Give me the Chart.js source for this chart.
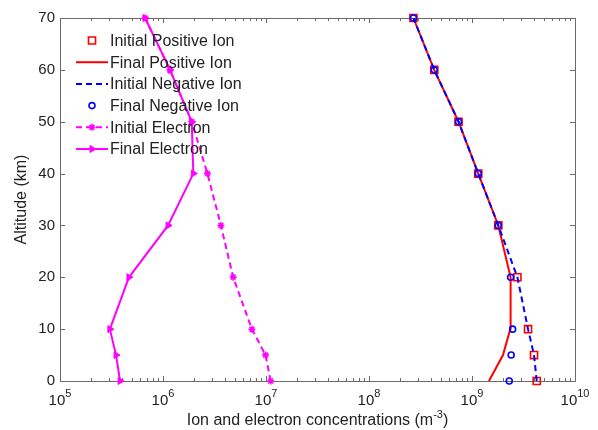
<!DOCTYPE html>
<html>
<head>
<meta charset="utf-8">
<script src="https://cdn.jsdelivr.net/npm/chart.js@4.4.1/dist/chart.umd.min.js"></script>
<style>
  html, body { margin: 0; padding: 0; background: #fff; }
  #wrap { width: 598px; height: 430px; }
</style>
</head>
<body>
<div id="wrap"><canvas id="chart" width="598" height="430"></canvas></div>
<script>
// altitudes (km) shared by every series
const altitude = [0, 5, 10, 20, 30, 40, 50, 60, 70];

// concentrations (m^-3)
const initialPositiveIon = [4.25e9, 4.0e9, 3.5e9, 2.76e9, 1.8e9, 1.15e9, 7.4e8, 4.3e8, 2.7e8];
const finalPositiveIon   = [1.46e9, 2.0e9, 2.35e9, 2.37e9, 1.8e9, 1.15e9, 7.4e8, 4.3e8, 2.7e8];
const initialNegativeIon = [4.25e9, 4.0e9, 3.5e9, 2.76e9, 1.8e9, 1.15e9, 7.4e8, 4.3e8, 2.7e8];
const finalNegativeIon   = [2.3e9, 2.4e9, 2.48e9, 2.37e9, 1.8e9, 1.15e9, 7.4e8, 4.3e8, 2.7e8];
const initialElectron    = [1.11e7, 9.9e6, 7.3e6, 4.8e6, 3.65e6, 2.7e6, 1.9e6, 1.17e6, 6.7e5];
const finalElectron      = [3.83e5, 3.5e5, 3.05e5, 4.67e5, 1.12e6, 1.97e6, 1.9e6, 1.17e6, 6.7e5];

// axis ticks
const xTickExponents = [5, 6, 7, 8, 9, 10];
const yTicks = [0, 10, 20, 30, 40, 50, 60, 70];

const FONT = "Arial, 'Liberation Sans', Helvetica, sans-serif";
const RED = '#ff0000', BLUE = '#0000ff', MAGENTA = '#ff00ff';

// pair the values with altitudes for the scatter/line datasets
const toPoints = (values) => values.map((v, i) => ({ x: v, y: altitude[i] }));

const datasets = [
  {
    label: 'Initial Positive Ion', data: toPoints(initialPositiveIon),
    showLine: false, borderColor: RED, backgroundColor: 'rgba(0,0,0,0)',
    pointStyle: 'rect', pointRadius: 5, pointBorderWidth: 1.6
  },
  {
    label: 'Final Positive Ion', data: toPoints(finalPositiveIon),
    showLine: true, borderColor: RED, borderWidth: 2, pointRadius: 0
  },
  {
    label: 'Initial Negative Ion', data: toPoints(initialNegativeIon),
    showLine: true, borderColor: BLUE, borderWidth: 2, borderDash: [6, 4], pointRadius: 0
  },
  {
    label: 'Final Negative Ion', data: toPoints(finalNegativeIon),
    showLine: false, borderColor: BLUE, backgroundColor: 'rgba(0,0,0,0)',
    pointStyle: 'circle', pointRadius: 3, pointBorderWidth: 1.6
  },
  {
    label: 'Initial Electron', data: toPoints(initialElectron),
    showLine: true, borderColor: MAGENTA, backgroundColor: MAGENTA, borderWidth: 2, borderDash: [6, 4],
    pointStyle: 'star', pointRadius: 3.5, pointBorderWidth: 1.5
  },
  {
    label: 'Final Electron', data: toPoints(finalElectron),
    showLine: true, borderColor: MAGENTA, backgroundColor: MAGENTA, borderWidth: 2,
    pointStyle: 'triangle', pointRotation: 90, pointRadius: 4, pointBorderWidth: 1
  }
];
// later series on top, like the original plot order
datasets.forEach((d, i) => { d.order = datasets.length - i; d.clip = false; d.tension = 0; });

// box, tick marks, tick labels, axis titles and legend, matlab style
const matlabAxes = {
  id: 'matlabAxes',
  beforeDatasetsDraw(chart) {
    const { ctx, chartArea: a, scales: { x, y } } = chart;
    ctx.save();
    ctx.strokeStyle = '#6a6a6a';
    ctx.lineWidth = 1;
    ctx.strokeRect(a.left + 0.5, a.top + 0.5, a.right - a.left, a.bottom - a.top);
    ctx.beginPath();
    for (let e = 5; e < 10; e++) {
      for (let m = 1; m <= 9; m++) {
        const px = Math.round(x.getPixelForValue(m * Math.pow(10, e))) + 0.5;
        const len = m === 1 ? 5 : 3;
        ctx.moveTo(px, a.bottom); ctx.lineTo(px, a.bottom - len);
        ctx.moveTo(px, a.top); ctx.lineTo(px, a.top + len);
      }
    }
    yTicks.forEach(t => {
      const py = Math.round(y.getPixelForValue(t)) + 0.5;
      ctx.moveTo(a.left, py); ctx.lineTo(a.left + 5, py);
      ctx.moveTo(a.right, py); ctx.lineTo(a.right - 5, py);
    });
    ctx.stroke();
    ctx.restore();
  },
  afterDatasetsDraw(chart) {
    const { ctx, chartArea: a, scales: { x, y } } = chart;
    ctx.save();
    ctx.fillStyle = '#222';

    // y tick labels
    ctx.font = '15px ' + FONT;
    ctx.textAlign = 'right';
    ctx.textBaseline = 'middle';
    yTicks.forEach(t => ctx.fillText(String(t), a.left - 5, y.getPixelForValue(t)));

    // x tick labels 10^n
    ctx.textAlign = 'left';
    ctx.textBaseline = 'alphabetic';
    xTickExponents.forEach(e => {
      const px = x.getPixelForValue(Math.pow(10, e));
      ctx.font = '15px ' + FONT;
      const wBase = ctx.measureText('10').width;
      ctx.font = '11px ' + FONT;
      const wExp = ctx.measureText(String(e)).width;
      const start = px - (wBase + wExp) / 2;
      ctx.font = '15px ' + FONT;
      ctx.fillText('10', start, 405);
      ctx.font = '11px ' + FONT;
      ctx.fillText(String(e), start + wBase, 397);
    });

    // x axis title with superscript
    const t1 = 'Ion and electron concentrations (m', sup = '-3', t2 = ')';
    ctx.font = '16px ' + FONT;
    const w1 = ctx.measureText(t1).width, w3 = ctx.measureText(t2).width;
    ctx.font = '11px ' + FONT;
    const w2 = ctx.measureText(sup).width;
    let sx = (a.left + a.right) / 2 - (w1 + w2 + w3) / 2;
    ctx.font = '16px ' + FONT;
    ctx.fillText(t1, sx, 425);
    ctx.font = '11px ' + FONT;
    ctx.fillText(sup, sx + w1, 418);
    ctx.font = '16px ' + FONT;
    ctx.fillText(t2, sx + w1 + w2, 425);

    // y axis title
    ctx.save();
    ctx.translate(22, (a.top + a.bottom) / 2);
    ctx.rotate(-Math.PI / 2);
    ctx.textAlign = 'center';
    ctx.textBaseline = 'middle';
    ctx.fillText('Altitude (km)', 0, 0);
    ctx.restore();

    // legend, no box
    const rowY0 = 40.5, rowStep = 21.7, x0 = 76, x1 = 108;
    chart.data.datasets.forEach((d, i) => {
      const ry = rowY0 + i * rowStep;
      if (d.showLine) {
        ctx.save();
        ctx.strokeStyle = d.borderColor;
        ctx.lineWidth = d.borderWidth;
        ctx.setLineDash(d.borderDash || []);
        ctx.beginPath();
        ctx.moveTo(x0, ry); ctx.lineTo(x1, ry);
        ctx.stroke();
        ctx.restore();
      }
      if (d.pointRadius > 0) {
        ctx.save();
        ctx.strokeStyle = d.borderColor;
        ctx.fillStyle = d.backgroundColor;
        ctx.lineWidth = d.pointBorderWidth;
        ctx.setLineDash([]);
        Chart.helpers.drawPoint(ctx, {
          pointStyle: d.pointStyle, rotation: d.pointRotation || 0,
          radius: d.pointRadius, borderWidth: d.pointBorderWidth
        }, (x0 + x1) / 2, ry);
        ctx.restore();
      }
      ctx.fillStyle = '#222';
      ctx.font = '16px ' + FONT;
      ctx.textAlign = 'left';
      ctx.textBaseline = 'middle';
      ctx.fillText(d.label, 110, ry + 1);
    });
    ctx.restore();
  }
};

new Chart(document.getElementById('chart'), {
  type: 'scatter',
  data: { datasets },
  options: {
    responsive: false,
    animation: false,
    layout: { padding: { left: 60, top: 18, right: 23, bottom: 49 } },
    plugins: { legend: { display: false }, tooltip: { enabled: false } },
    scales: {
      x: { type: 'logarithmic', min: 1e5, max: 1e10, display: false },
      y: { type: 'linear', min: 0, max: 70, display: false }
    }
  },
  plugins: [matlabAxes]
});
</script>
</body>
</html>
